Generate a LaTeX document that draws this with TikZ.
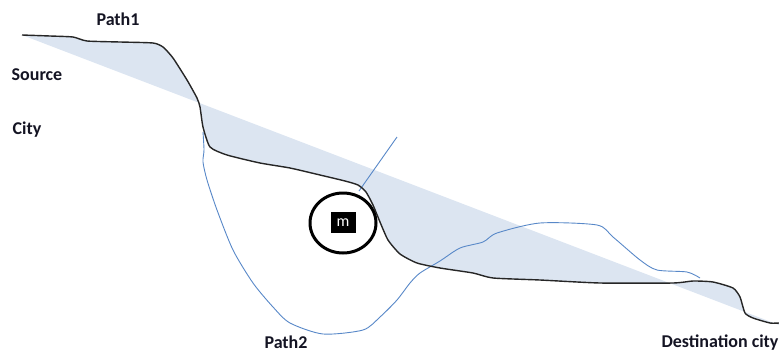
\documentclass[tikz,border=0pt]{standalone}
\usepackage{fontspec}
\setmainfont{Carlito}
\usetikzlibrary{shapes.geometric}
\definecolor{shadeblue}{RGB}{220,229,241}
\definecolor{pathblue}{RGB}{88,136,200}
\definecolor{labelink}{RGB}{20,20,35}
\tikzset{
  lbl/.style={font=\bfseries\fontsize{18}{20}\selectfont, text=labelink, inner sep=0pt},
  pathone/.style={draw=black!85, line width=1.4pt, line join=round},
  pathtwo/.style={draw=pathblue, line width=0.9pt, line join=round},
  ring/.style={ellipse, draw=black, line width=3pt, minimum width=66pt, minimum height=60pt, inner sep=0pt},
  mbox/.style={fill=black, text=white, minimum width=25pt, minimum height=21pt, inner sep=0pt, font=\fontsize{16}{16}\selectfont}
}
\begin{document}
\begin{tikzpicture}[x=1pt,y=-1pt]
\useasboundingbox (0,0) rectangle (779,354);
% shaded region between straight line and Path1
\fill[shadeblue] plot[smooth, tension=0.35] coordinates {(22,35) (50,36) (73,37) (87,41) (120,42) (153,43) (163,47) (173,58) (187,80) (197,98) (200,107) (203,127) (210,147) (227,155) (260,163) (290,168) (320,175) (345,181) (358,185) (366,192) (373,205) (380,222) (388,240) (400,254) (417,263) (440,268) (473,273) (493,278) (540,280) (600,283) (673,283) (693,281) (713,282) (733,288) (740,297) (745,313) (753,318) (770,323) (779,323)} -- (779,325) -- (22,35) -- cycle;
% Path2 (blue)
\draw[pathtwo] plot[smooth, tension=0.45] coordinates {(203,132) (204,150) (203,162) (207,180) (217,210) (233,250) (253,283) (273,307) (290,323) (323,334) (363,330) (380,317) (397,300) (410,283) (420,273) (440,261) (460,248) (483,242) (497,233) (540,223) (597,225) (613,237) (640,260) (657,270) (687,272) (700,278)};
\draw[pathtwo] (359,191) -- (397,137);
% Path1 (black)
\draw[pathone] plot[smooth, tension=0.35] coordinates {(22,35) (50,36) (73,37) (87,41) (120,42) (153,43) (163,47) (173,58) (187,80) (197,98) (200,107) (203,127) (210,147) (227,155) (260,163) (290,168) (320,175) (345,181) (358,185) (366,192) (373,205) (380,222) (388,240) (400,254) (417,263) (440,268) (473,273) (493,278) (540,280) (600,283) (673,283) (693,281) (713,282) (733,288) (740,297) (745,313) (753,318) (770,323) (779,323)};
% marker
\node[ring] (ring) at (343,223) {};
\node[mbox] (m) at (343,222.5) {m};
% labels
\node[lbl] (path1) at (118,19) {Path1};
\node[lbl] (source) at (37,75) {Source};
\node[lbl] (city) at (27,130) {City};
\node[lbl] (path2) at (286,342) {Path2};
\node[lbl] (dest) at (720,343) {Destination city};
\end{tikzpicture}
\end{document}
